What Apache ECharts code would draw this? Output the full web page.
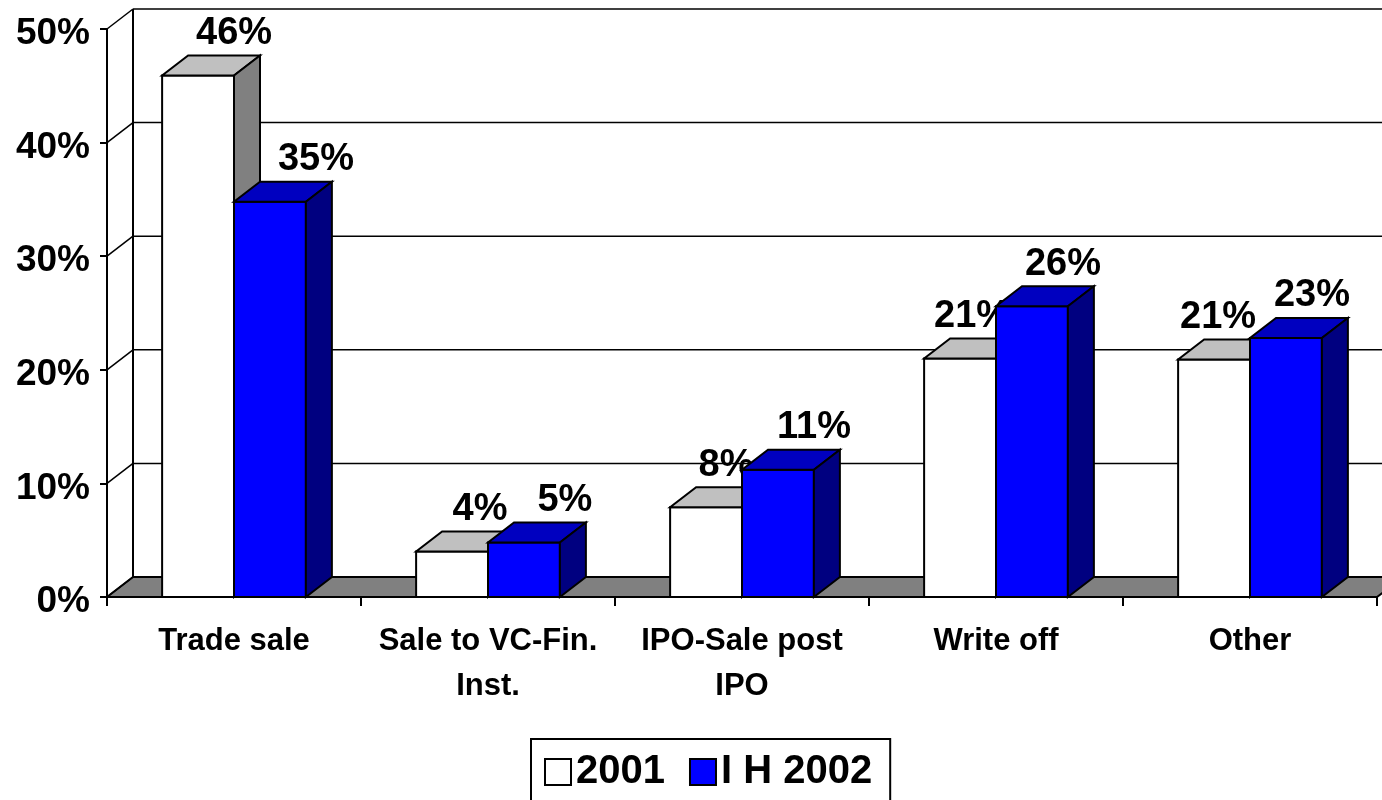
<!DOCTYPE html>
<html>
<head>
<meta charset="utf-8">
<script src="https://cdn.jsdelivr.net/npm/echarts@6/dist/echarts.min.js"></script>
<style>
  html, body { margin: 0; padding: 0; background: #fff; }
  #chart { width: 1382px; height: 800px; }
</style>
</head>
<body>
<div id="chart"></div>
<script>
// data
const categories = ['Trade sale', 'Sale to VC-Fin.\nInst.', 'IPO-Sale post\nIPO', 'Write off', 'Other']
const values2001 = [45.9, 4.0, 7.9, 21.0, 20.9]
const values2002 = [34.8, 4.8, 11.2, 25.6, 22.8]
const yTicks = [0, 10, 20, 30, 40, 50]
const seriesNames = ['2001', 'I H 2002']

const FONT = '"Liberation Sans", Arial, sans-serif'
// 3d depth of the plot
const DX = 26
const DY = 20

const myChart = echarts.init(document.getElementById('chart'))

// back wall, side wall lines and floor
function renderWall(params, api) {
  const cs = params.coordSys
  const v = api.value(1)
  const y = api.coord([0, v])[1]
  const left = cs.x
  const right = cs.x + cs.width
  const children = []
  if (v === 0) {
    // floor
    children.push({
      type: 'polygon',
      shape: { points: [[left, y], [right, y], [right + DX, y - DY], [left + DX, y - DY]] },
      style: { fill: '#808080', stroke: '#000', lineWidth: 2 }
    })
    // back wall left edge
    children.push({
      type: 'line',
      shape: { x1: left + DX, y1: cs.y - DY, x2: left + DX, y2: cs.y + cs.height - DY },
      style: { stroke: '#000', lineWidth: 2 }
    })
  } else {
    children.push({
      type: 'line',
      shape: { x1: left + DX, y1: y - DY, x2: right + DX + 10, y2: y - DY },
      style: { stroke: '#000', lineWidth: 1.5 }
    })
  }
  // diagonal on the side wall
  children.push({
    type: 'line',
    shape: { x1: left, y1: y, x2: left + DX, y2: y - DY },
    style: { stroke: '#000', lineWidth: 1.5 }
  })
  return { type: 'group', children: children }
}

function makeBar(front, topC, sideC, isSecond) {
  return function(params, api) {
    const ci = api.value(0)
    const v = api.value(1)
    const base = api.coord([ci, 0])
    const top = api.coord([ci, v])
    const band = api.size([1, 0])[0]
    const w = band * 0.283
    const x0 = isSecond ? base[0] : base[0] - w
    const x1 = x0 + w
    const yb = base[1]
    const yt = top[1]
    // label drifts a bit, like the excel one
    const lx = (x0 + x1) / 2 + (isSecond ? 46 - 5 * ci : 36 - 8 * ci)
    return {
      type: 'group',
      children: [
        {
          type: 'rect',
          shape: { x: x0, y: yt, width: w, height: yb - yt },
          style: { fill: front, stroke: '#000', lineWidth: 2 }
        },
        {
          type: 'polygon',
          shape: { points: [[x0, yt], [x1, yt], [x1 + DX, yt - DY], [x0 + DX, yt - DY]] },
          style: { fill: topC, stroke: '#000', lineWidth: 2 }
        },
        {
          type: 'polygon',
          shape: { points: [[x1, yt], [x1 + DX, yt - DY], [x1 + DX, yb - DY], [x1, yb]] },
          style: { fill: sideC, stroke: '#000', lineWidth: 2 }
        },
        {
          type: 'text',
          style: {
            text: Math.round(v) + '%',
            x: lx,
            y: yt - DY - 3,
            align: 'center',
            verticalAlign: 'bottom',
            font: 'bold 38px ' + FONT,
            fill: '#000'
          }
        }
      ]
    }
  }
}

const option = {
  animation: false,
  grid: {
    left: 107,
    right: 5,
    top: 29,
    bottom: 203
  },
  legend: {
    left: 531,
    top: 739,
    backgroundColor: '#fff',
    borderColor: '#000',
    borderWidth: 2,
    padding: [13, 18, 16, 13],
    itemWidth: 26,
    itemHeight: 26,
    itemGap: 24,
    textStyle: {
      fontFamily: FONT,
      fontWeight: 'bold',
      fontSize: 40,
      color: '#000'
    },
    data: [
      { name: seriesNames[0], icon: 'rect', itemStyle: { color: '#fff', borderColor: '#000', borderWidth: 2 } },
      { name: seriesNames[1], icon: 'rect', itemStyle: { color: '#0000ff', borderColor: '#000', borderWidth: 2 } }
    ]
  },
  xAxis: {
    type: 'category',
    data: categories,
    axisLine: { lineStyle: { color: '#000', width: 2 } },
    axisTick: { show: true, interval: 0, length: 9, lineStyle: { color: '#000', width: 2 } },
    axisLabel: {
      interval: 0,
      color: '#000',
      fontFamily: FONT,
      fontWeight: 'bold',
      fontSize: 31,
      lineHeight: 45,
      margin: 22
    },
    splitLine: { show: false }
  },
  yAxis: {
    type: 'value',
    min: 0,
    max: 50,
    interval: 10,
    axisLine: { show: true, lineStyle: { color: '#000', width: 2 } },
    axisTick: { show: true, length: 7, lineStyle: { color: '#000', width: 2 } },
    axisLabel: {
      formatter: '{v|{value}%}',
      margin: 17,
      rich: {
        v: {
          color: '#000',
          fontFamily: FONT,
          fontWeight: 'bold',
          fontSize: 37,
          padding: [10, 0, 0, 0]
        }
      }
    },
    splitLine: { show: false }
  },
  series: [
    {
      name: 'wall',
      type: 'custom',
      clip: false,
      silent: true,
      z: 1,
      renderItem: renderWall,
      data: yTicks.map(function(t) { return [0, t] })
    },
    {
      name: seriesNames[0],
      type: 'custom',
      clip: false,
      z: 2,
      itemStyle: { color: '#fff' },
      renderItem: makeBar('#ffffff', '#c0c0c0', '#808080', false),
      data: values2001.map(function(v, i) { return [i, v] })
    },
    {
      name: seriesNames[1],
      type: 'custom',
      clip: false,
      z: 3,
      itemStyle: { color: '#0000ff' },
      renderItem: makeBar('#0000ff', '#0000c0', '#000080', true),
      data: values2002.map(function(v, i) { return [i, v] })
    }
  ]
}

myChart.setOption(option)
window.addEventListener('resize', function() {
  myChart.resize()
})
</script>
</body>
</html>
